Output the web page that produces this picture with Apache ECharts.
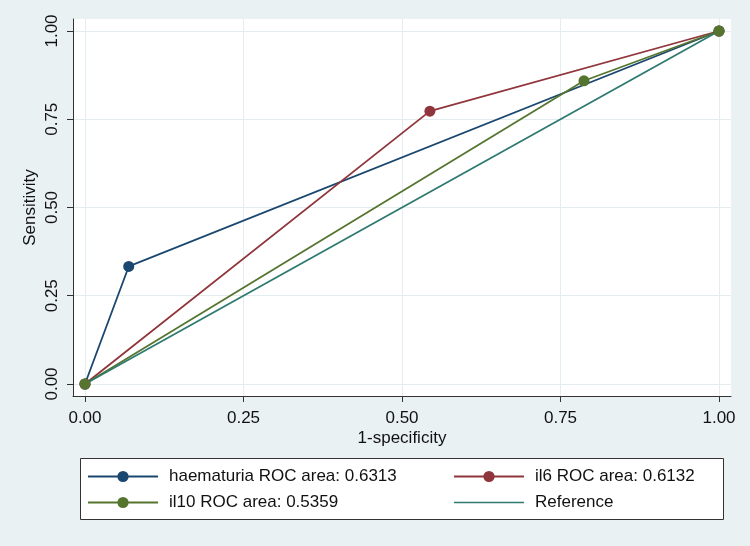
<!DOCTYPE html>
<html>
<head>
<meta charset="utf-8">
<script src="https://cdn.jsdelivr.net/npm/echarts@6/dist/echarts.min.js"></script>
<style>
html,body{margin:0;padding:0;background:#eaf1f3;}
#c{width:750px;height:546px;}
</style>
</head>
<body>
<div id="c"></div>
<script>
const tickValues = [0, 0.25, 0.5, 0.75, 1];
const tickLabels = ['0.00', '0.25', '0.50', '0.75', '1.00'];
const seriesNames = ['haematuria ROC area: 0.6313', 'il6 ROC area: 0.6132', 'il10 ROC area: 0.5359', 'Reference'];
const haematuria = [[0, 0], [0.069, 0.333], [1, 1]];
const il6 = [[0, 0], [0.544, 0.773], [1, 1]];
const il10 = [[0, 0], [0.787, 0.859], [1, 1]];
const reference = [[0, 0], [1, 1]];
const colors = ['#1a476f', '#90353b', '#55752f', '#2f7a70'];

const font = '"Liberation Sans", Arial, Helvetica, sans-serif';
const chart = echarts.init(document.getElementById('c'));
const fmt = v => tickLabels[tickValues.indexOf(v)] ?? '';

function axisCommon() {
  return {
    type: 'value',
    axisLine: { show: true, onZero: false, lineStyle: { color: '#333', width: 1 } },
    axisTick: { show: true, length: 6, customValues: tickValues, lineStyle: { color: '#333' } },
    axisLabel: { customValues: tickValues, formatter: fmt, color: '#111', fontSize: 17, fontFamily: font },
    splitLine: { show: true, lineStyle: { color: '#e3edf0', width: 1 } },
    nameLocation: 'middle',
    nameMoveOverlap: false,
    nameTextStyle: { color: '#111', fontSize: 17, fontFamily: font }
  };
}

const xAxis = Object.assign(axisCommon(), { min: -0.0189, max: 1.0189, name: '1-specificity', nameGap: 34 });
xAxis.axisLabel.margin = 14;
const yAxis = Object.assign(axisCommon(), { min: -0.034, max: 1.034, name: 'Sensitivity', nameGap: 34 });
yAxis.axisLabel.rotate = 90;
yAxis.axisLabel.margin = 12;

function lineSeries(name, data, color, sym) {
  return {
    name, type: 'line', data, color,
    symbol: sym ? 'circle' : 'none', symbolSize: 11, showSymbol: sym,
    lineStyle: { color, width: 1.8 },
    itemStyle: { color },
    animation: false
  };
}

const legendBase = {
  orient: 'vertical', top: 468, itemWidth: 70, itemHeight: 14, itemGap: 9, padding: 0,
  textStyle: { color: '#111', fontSize: 17, fontFamily: font, padding: [0, 0, 0, 6] },
  selectedMode: false
};
const lineIcon = 'path://M0,0h0.01v0.01h-0.01zM0,6.2h70v1.6h-70zM69.99,13.99h0.01v0.01h-0.01z';

chart.setOption({
  backgroundColor: '#eaf1f3',
  animation: false,
  grid: { left: 73, top: 19, width: 658, height: 377, show: true, backgroundColor: '#ffffff', borderWidth: 0 },
  xAxis, yAxis,
  graphic: [{ type: 'rect', shape: { x: 80.5, y: 458.5, width: 643, height: 61 }, style: { fill: '#fff', stroke: '#333', lineWidth: 1 }, z: -1 }],
  legend: [
    Object.assign({}, legendBase, { left: 87, data: [seriesNames[0], seriesNames[2]] }),
    Object.assign({}, legendBase, { left: 453, data: [seriesNames[1], { name: seriesNames[3], icon: lineIcon }] })
  ],
  series: [
    lineSeries(seriesNames[0], haematuria, colors[0], true),
    lineSeries(seriesNames[1], il6, colors[1], true),
    lineSeries(seriesNames[2], il10, colors[2], true),
    lineSeries(seriesNames[3], reference, colors[3], false)
  ]
});
</script>
</body>
</html>
